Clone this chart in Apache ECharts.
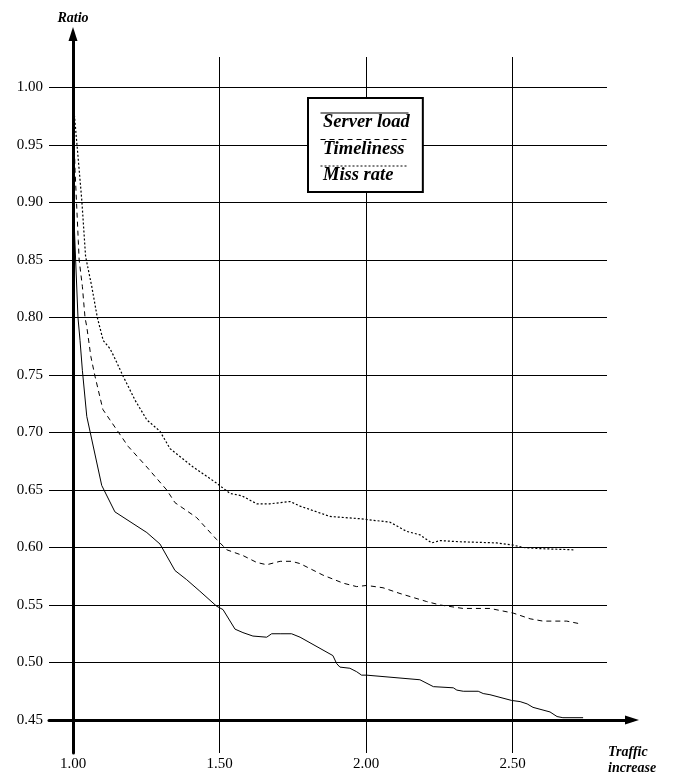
<!DOCTYPE html>
<html>
<head>
<meta charset="utf-8">
<script src="https://cdn.jsdelivr.net/npm/echarts@6/dist/echarts.min.js"></script>
<style>
  html, body { margin: 0; padding: 0; background: #fff; }
  #chart { width: 673px; height: 781px; }
</style>
</head>
<body>
<div id="chart"></div>
<script>
// Ratio of each metric against the traffic increase factor
const seriesNames = ['Server load', 'Timeliness', 'Miss rate'];

const serverLoad = [
  [1.000, 0.990], [1.005, 0.876], [1.009, 0.850], [1.017, 0.800], [1.024, 0.780],
  [1.032, 0.754], [1.047, 0.714], [1.098, 0.654], [1.143, 0.631], [1.252, 0.613],
  [1.297, 0.603], [1.348, 0.580], [1.388, 0.572], [1.433, 0.562], [1.490, 0.549],
  [1.512, 0.546], [1.553, 0.529], [1.580, 0.526], [1.614, 0.523], [1.661, 0.522],
  [1.678, 0.525], [1.707, 0.525], [1.746, 0.525], [1.775, 0.522], [1.887, 0.506],
  [1.900, 0.499], [1.911, 0.496], [1.945, 0.495], [1.968, 0.492], [1.985, 0.489],
  [2.002, 0.489], [2.184, 0.485], [2.230, 0.479], [2.298, 0.478], [2.310, 0.476],
  [2.332, 0.475], [2.383, 0.475], [2.400, 0.473], [2.423, 0.472], [2.497, 0.467],
  [2.526, 0.466], [2.550, 0.464], [2.570, 0.461], [2.628, 0.457], [2.652, 0.453],
  [2.672, 0.452], [2.741, 0.452]
];

const timeliness = [
  [1.000, 0.985], [1.007, 0.928], [1.018, 0.867], [1.021, 0.850], [1.032, 0.827],
  [1.041, 0.800], [1.047, 0.792], [1.061, 0.766], [1.075, 0.749], [1.102, 0.720],
  [1.126, 0.711], [1.188, 0.688], [1.252, 0.670], [1.320, 0.650], [1.348, 0.639],
  [1.422, 0.626], [1.490, 0.607], [1.525, 0.598], [1.580, 0.593], [1.627, 0.587],
  [1.661, 0.585], [1.707, 0.588], [1.746, 0.588], [1.775, 0.586], [1.853, 0.576],
  [1.922, 0.569], [1.968, 0.566], [2.002, 0.567], [2.058, 0.565], [2.116, 0.560],
  [2.207, 0.553], [2.253, 0.550], [2.331, 0.547], [2.423, 0.547], [2.502, 0.543],
  [2.560, 0.538], [2.604, 0.536], [2.685, 0.536], [2.724, 0.534]
];

const missRate = [
  [1.000, 0.990], [1.013, 0.952], [1.030, 0.902], [1.043, 0.853], [1.064, 0.827],
  [1.083, 0.800], [1.103, 0.780], [1.126, 0.773], [1.140, 0.766], [1.171, 0.749],
  [1.212, 0.728], [1.252, 0.711], [1.297, 0.701], [1.331, 0.686], [1.410, 0.670],
  [1.490, 0.656], [1.536, 0.647], [1.576, 0.645], [1.627, 0.638], [1.672, 0.638],
  [1.741, 0.640], [1.775, 0.636], [1.877, 0.627], [1.980, 0.625], [2.082, 0.622],
  [2.139, 0.614], [2.184, 0.611], [2.224, 0.604], [2.253, 0.606], [2.321, 0.605],
  [2.446, 0.604], [2.503, 0.602], [2.537, 0.600], [2.594, 0.599], [2.708, 0.598]
];

// Tick values for the two axes
const ratioTicks = [0.45, 0.50, 0.55, 0.60, 0.65, 0.70, 0.75, 0.80, 0.85, 0.90, 0.95, 1.00];
const ratioStep = 0.05;
const trafficTicks = [1.00, 1.50, 2.00, 2.50];
const trafficStep = 0.5;

const SERIF = 'Liberation Serif, Times New Roman, serif';
const BLACK = '#000';

// Pixel scale shared by every grid: 293 px per traffic unit, 1150 px per ratio unit
const PX_X = 293, PX_Y = 1150;
const X0 = 73, Y0 = 720;               // position of (1.00, 0.45)
const mainRight = 632, mainTop = 34;   // axis ends (arrow heads sit past them)

const ratioSpan = ratioTicks[ratioTicks.length - 1] - ratioTicks[0];
const trafficSpan = trafficTicks[trafficTicks.length - 1] - trafficTicks[0];

const hidden = { show: false };
const legendFont = { fontFamily: SERIF, fontStyle: 'italic', fontWeight: 'bold', fontSize: 18.5, lineHeight: 20, color: BLACK };

const chart = echarts.init(document.getElementById('chart'), null, { renderer: 'canvas' });

chart.setOption({
  backgroundColor: '#fff',
  animation: false,
  title: {
    text: 'Traffic\nincrease',
    left: 608,
    top: 744,
    padding: 0,
    textStyle: {
      fontFamily: SERIF, fontStyle: 'italic', fontWeight: 'bold',
      fontSize: 14, lineHeight: 16, color: BLACK
    }
  },
  grid: [
    // horizontal ratio grid lines and their labels
    {
      left: 49, top: Y0 - ratioSpan * PX_Y, width: 558, height: ratioSpan * PX_Y,
      outerBoundsMode: 'none', containLabel: false
    },
    // vertical traffic grid lines and their labels
    {
      left: X0, top: 57, width: trafficSpan * PX_X, height: 696,
      outerBoundsMode: 'none', containLabel: false
    },
    // plotting area with the arrowed axes
    {
      left: X0, top: mainTop, width: mainRight - X0, height: Y0 - mainTop,
      outerBoundsMode: 'none', containLabel: false
    }
  ],
  xAxis: [
    {
      gridIndex: 0, type: 'value', min: 0, max: 1,
      axisLine: { show: true, lineStyle: { color: BLACK, width: 3 } },
      axisTick: hidden, axisLabel: hidden, splitLine: hidden
    },
    {
      gridIndex: 1, type: 'value',
      min: trafficTicks[0], max: trafficTicks[trafficTicks.length - 1], interval: trafficStep,
      axisLine: hidden, axisTick: hidden,
      axisLabel: {
        show: true, margin: 4, showMinLabel: true, showMaxLabel: true,
        fontFamily: SERIF, fontSize: 15, color: BLACK,
        formatter: v => v.toFixed(2)
      },
      splitLine: { show: true, lineStyle: { color: BLACK, width: 1 } }
    },
    {
      gridIndex: 2, type: 'value',
      min: trafficTicks[0], max: trafficTicks[0] + (mainRight - X0) / PX_X,
      axisLine: {
        show: true, symbol: ['none', 'triangle'], symbolSize: [9, 14],
        lineStyle: { color: BLACK, width: 3 }
      },
      axisTick: hidden, axisLabel: hidden, splitLine: hidden
    }
  ],
  yAxis: [
    {
      gridIndex: 0, type: 'value',
      min: ratioTicks[0], max: ratioTicks[ratioTicks.length - 1], interval: ratioStep,
      axisLine: hidden, axisTick: hidden,
      axisLabel: {
        show: true, margin: 6, showMinLabel: true, showMaxLabel: true,
        fontFamily: SERIF, fontSize: 15, color: BLACK,
        formatter: v => v.toFixed(2)
      },
      splitLine: { show: true, lineStyle: { color: BLACK, width: 1 } }
    },
    {
      gridIndex: 1, type: 'value', min: 0, max: 1,
      axisLine: { show: true, lineStyle: { color: BLACK, width: 3 } },
      axisTick: hidden, axisLabel: hidden, splitLine: hidden
    },
    {
      gridIndex: 2, type: 'value',
      min: ratioTicks[0], max: ratioTicks[0] + (Y0 - mainTop) / PX_Y,
      name: 'Ratio', nameLocation: 'end', nameGap: 9,
      nameTextStyle: {
        fontFamily: SERIF, fontStyle: 'italic', fontWeight: 'bold',
        fontSize: 14, color: BLACK
      },
      axisLine: {
        show: true, symbol: ['none', 'triangle'], symbolSize: [9, 14],
        lineStyle: { color: BLACK, width: 3 }
      },
      axisTick: hidden, axisLabel: hidden, splitLine: hidden
    }
  ],
  legend: [
    // framed box holding the series names
    {
      data: seriesNames.map(name => ({ name, icon: 'rect' })),
      orient: 'vertical',
      left: 308, top: 98,
      padding: [14.5, 13, 6.5, 6],
      itemWidth: 4, itemHeight: 2, itemGap: 6.5,
      selectedMode: false,
      backgroundColor: '#fff',
      borderColor: BLACK, borderWidth: 2, borderRadius: 0,
      itemStyle: { color: 'rgba(0,0,0,0)', borderWidth: 0 },
      textStyle: legendFont,
      z: 4
    },
    // line samples drawn just above each name
    {
      data: seriesNames,
      orient: 'vertical',
      left: 320, top: 103,
      padding: 0,
      itemWidth: 88, itemHeight: 2, itemGap: 6.5,
      selectedMode: false,
      formatter: () => ' ',
      itemStyle: { color: 'rgba(0,0,0,0)', borderColor: 'rgba(0,0,0,0)', borderWidth: 0 },
      lineStyle: { width: 1 },
      textStyle: { fontFamily: SERIF, fontSize: 17, lineHeight: 20, color: BLACK },
      z: 5
    }
  ],
  series: [
    {
      name: seriesNames[0], type: 'line', xAxisIndex: 2, yAxisIndex: 2,
      data: serverLoad, showSymbol: false, symbol: 'none', smooth: false,
      lineStyle: { color: BLACK, width: 1, type: 'solid' }, itemStyle: { color: BLACK }, z: 3
    },
    {
      name: seriesNames[1], type: 'line', xAxisIndex: 2, yAxisIndex: 2,
      data: timeliness, showSymbol: false, symbol: 'none', smooth: false,
      lineStyle: { color: BLACK, width: 1, type: [5, 4] }, itemStyle: { color: BLACK }, z: 3
    },
    {
      name: seriesNames[2], type: 'line', xAxisIndex: 2, yAxisIndex: 2,
      data: missRate, showSymbol: false, symbol: 'none', smooth: false,
      lineStyle: { color: BLACK, width: 1.2, type: [2, 2] }, itemStyle: { color: BLACK }, z: 3
    }
  ]
});
</script>
</body>
</html>
